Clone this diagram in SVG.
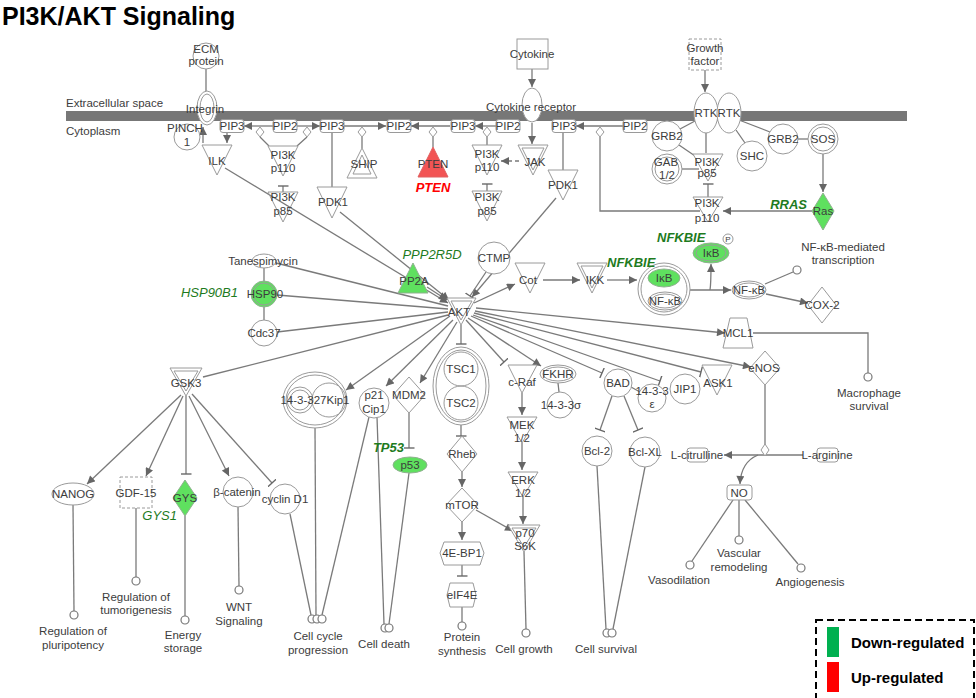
<svg xmlns="http://www.w3.org/2000/svg" width="976" height="698" viewBox="0 0 976 698">
<style>
.n{fill:#fff;stroke:#9a9a9a;stroke-width:1}
.nf{fill:none;stroke:#9a9a9a;stroke-width:1}
.gr{fill:#5fe05f;stroke:#8fb08f;stroke-width:1}
.rd{fill:#f25454;stroke:#e06060;stroke-width:1}
.t{font-family:"Liberation Sans",Arial,sans-serif;font-size:11.5px;fill:#3c3c3c;text-anchor:middle}
.s{text-anchor:start}
.l{stroke:#7a7a7a;stroke-width:1.3;fill:none}
.ar{marker-end:url(#a)}
.in{marker-end:url(#tee)}
.o{fill:#fff;stroke:#777;stroke-width:1.2}
.lab{font-family:"Liberation Sans",Arial,sans-serif;font-size:13px;font-style:italic;fill:#1e7b1e}
.b{font-weight:bold}
</style>
<defs>
<marker id="a" viewBox="0 0 10 10" refX="10" refY="5" markerWidth="9" markerHeight="8" orient="auto" markerUnits="userSpaceOnUse"><path d="M0,0 L10,5 L0,10 z" fill="#666"/></marker>
<marker id="tee" viewBox="0 0 4 12" refX="2" refY="6" markerWidth="4" markerHeight="11" orient="auto" markerUnits="userSpaceOnUse"><path d="M2,0 L2,12" stroke="#666" stroke-width="1.5"/></marker>
</defs>
<rect width="976" height="698" fill="#fff"/>
<text x="2" y="25" font-family="Liberation Sans, Arial, sans-serif" font-size="25" font-weight="bold" fill="#000">PI3K/AKT Signaling</text>
<g id="membrane">
<rect x="66" y="111" width="841" height="10" fill="#777"/>
<text class="t s" x="66" y="107">Extracellular space</text>
<text class="t s" x="66" y="135">Cytoplasm</text>
</g>
<g id="connectors">
<path class="l" d="M206,69 L206,91"/>
<path class="l ar" d="M203,143 L203,127"/>
<path class="l ar" d="M227,123 L227,143"/>
<path class="l ar" d="M273,126 L244,126"/>
<path class="l ar" d="M297,126 L320,126"/>
<path class="l ar" d="M344,126 L386,126"/>
<path class="l ar" d="M450,126 L411,126"/>
<path class="l ar" d="M496,126 L475,126"/>
<path class="l ar" d="M623,126 L576,126"/>
<path class="l" d="M260,137 L269,146 M307,137 L297,146"/>
<path class="l" d="M362,137 L362,148"/>
<path class="l" d="M433,137 L433,147"/>
<path class="l" d="M487,137 L487,145"/>
<path class="l" d="M600,137 L600,211 L700,211"/>
<path class="l in" d="M283,192 L283,186"/>
<path class="l in" d="M487,191 L487,184"/>
<path class="l ar" d="M519,161 L501,161" stroke-dasharray="4 3"/>
<path class="l ar" d="M532,69 L532,87"/>
<path class="l ar" d="M532,123 L532,144"/>
<path class="l" d="M332,133 L332,187"/>
<path class="l" d="M563,133 L563,170"/>
<path class="l ar" d="M705,70 L705,92"/>
<path class="l" d="M706,133 L706,153"/>
<path class="l" d="M680,129 L695,121"/>
<path class="l" d="M679,145 L698,158"/>
<path class="l" d="M682,169 L699,169"/>
<path class="l in" d="M708,197 L708,184"/>
<path class="l" d="M736,130 L745,143"/>
<path class="l" d="M739,120 L770,132"/>
<path class="l" d="M798,139 L808,139"/>
<path class="l ar" d="M823,154 L823,192"/>
<path class="l ar" d="M812,211 L723,211"/>
<path class="l ar" d="M225,168 L448,303"/>
<path class="l ar" d="M340,212 L449,300"/>
<path class="l ar" d="M427,287 L447,300"/>
<path class="l ar" d="M556,198 L472,297"/>
<path class="l in" d="M486,272 L470,296"/>
<path class="l" d="M276,263 L448,306"/>
<path class="l" d="M277,295 L448,309"/>
<path class="l" d="M277,332 L448,312"/>
<path class="l" d="M203,377 L448,315"/>
<path class="l" d="M264,268 L264,281"/>
<path class="l" d="M264,307 L264,320"/>
<path class="l ar" d="M474,303 L515,284"/>
<path class="l ar" d="M543,280 L580,280"/>
<path class="l ar" d="M607,280 L637,280"/>
<path class="l ar" d="M690,290 L731,290"/>
<path class="l ar" d="M710,290 Q711,284 711,264"/>
<path class="l" d="M765,284 L793,272"/>
<path class="l ar" d="M766,294 L808,303"/>
<path class="l ar" d="M476,308 L725,333"/>
<path class="l" d="M753,333 L868,333 L868,373"/>
<path class="l ar" d="M475,311 L751,367"/>
<path class="l in" d="M474,313 L701,372"/>
<path class="l in" d="M473,315 L660,381"/>
<path class="l in" d="M471,316 L602,373"/>
<path class="l ar" d="M468,318 L541,366"/>
<path class="l in" d="M466,320 L504,362"/>
<path class="l in" d="M461,325 L461,344"/>
<path class="l ar" d="M457,322 L420,383"/>
<path class="l ar" d="M453,320 L386,386"/>
<path class="l ar" d="M450,316 L346,390"/>
<path class="l" d="M765,385 L765,445"/>
<path class="l ar" d="M803,455 L724,455"/>
<path class="l ar" d="M758,455 Q741,462 740,484"/>
<path class="l" d="M733,500 L692,561"/>
<path class="l" d="M739,500 L739,536"/>
<path class="l" d="M745,500 L798,564"/>
<path class="l ar" d="M181,395 L87,484"/>
<path class="l ar" d="M183,396 L146,476"/>
<path class="l in" d="M186,396 L186,474"/>
<path class="l ar" d="M189,396 L229,476"/>
<path class="l in" d="M192,394 L272,483"/>
<path class="l" d="M73,505 L74,611"/>
<path class="l" d="M136,508 L136,577"/>
<path class="l" d="M185,516 L185,616"/>
<path class="l" d="M238,507 L239,586"/>
<path class="l" d="M315,427 L316,615"/>
<path class="l" d="M290,514 L311,615"/>
<path class="l" d="M369,417 L322,615"/>
<path class="l" d="M377,417 L384,624"/>
<path class="l in" d="M409,413 L409,448"/>
<path class="l" d="M409,473 L389,624"/>
<path class="l in" d="M461,425 L461,436"/>
<path class="l ar" d="M462,472 L462,487"/>
<path class="l ar" d="M462,522 L462,540"/>
<path class="l in" d="M462,565 L462,576"/>
<path class="l" d="M462,607 L462,622"/>
<path class="l ar" d="M476,510 L513,531"/>
<path class="l ar" d="M522,393 L522,415"/>
<path class="l ar" d="M522,443 L522,470"/>
<path class="l ar" d="M523,497 L523,524"/>
<path class="l" d="M524,552 L526,629"/>
<path class="l" d="M558,383 L559,392"/>
<path class="l in" d="M612,396 L600,430"/>
<path class="l in" d="M624,396 L638,430"/>
<path class="l" d="M631,387 L640,392"/>
<path class="l" d="M597,466 L606,629"/>
<path class="l" d="M645,467 L613,629"/>
</g>
<g id="catalysts">
<polygon class="n" points="260,127 264,132 260,137 256,132"/>
<polygon class="n" points="307,127 311,132 307,137 303,132"/>
<polygon class="n" points="362,127 366,132 362,137 358,132"/>
<polygon class="n" points="433,127 437,132 433,137 429,132"/>
<polygon class="n" points="487,127 491,132 487,137 483,132"/>
<polygon class="n" points="600,127 604,132 600,137 596,132"/>
<polygon class="n" points="765,444 769,450 765,456 761,450"/>
</g>
<g id="ecm"><circle class="n" cx="206" cy="56" r="13"/><text class="t" x="206" y="53">ECM</text><text class="t" x="206" y="65">protein</text></g>
<g id="integrin"><ellipse class="n" cx="207" cy="108" rx="10" ry="17"/><ellipse class="nf" cx="207" cy="108" rx="7" ry="14"/><text class="t" x="205" y="113">Integrin</text></g>
<g id="pinch"><circle class="n" cx="187" cy="137" r="13"/><text class="t" x="185" y="132">PINCH</text><text class="t" x="187" y="146">1</text></g>
<g id="ilk"><polygon class="n" points="202,145 232,145 217,175"/><text class="t" x="217" y="165">ILK</text></g>
<g id="pip3a"><rect class="n" x="220" y="119.5" width="24" height="13" rx="3"/><text class="t" x="232" y="130">PIP3</text></g>
<g id="pip2a"><rect class="n" x="273" y="119.5" width="24" height="13" rx="3"/><text class="t" x="285" y="130">PIP2</text></g>
<g id="pip3b"><rect class="n" x="320" y="119.5" width="24" height="13" rx="3"/><text class="t" x="332" y="130">PIP3</text></g>
<g id="pip2b"><rect class="n" x="387" y="119.5" width="24" height="13" rx="3"/><text class="t" x="399" y="130">PIP2</text></g>
<g id="pip3c"><rect class="n" x="451" y="119.5" width="24" height="13" rx="3"/><text class="t" x="463" y="130">PIP3</text></g>
<g id="pip2c"><rect class="n" x="496" y="119.5" width="24" height="13" rx="3"/><text class="t" x="508" y="130">PIP2</text></g>
<g id="pip3d"><rect class="n" x="552" y="119.5" width="24" height="13" rx="3"/><text class="t" x="564" y="130">PIP3</text></g>
<g id="pip2d"><rect class="n" x="623" y="119.5" width="24" height="13" rx="3"/><text class="t" x="635" y="130">PIP2</text></g>
<g id="pi3k-p110-a"><polygon class="n" points="268,146 298,146 283,176"/><text class="t" x="283" y="159">PI3K</text><text class="t" x="283" y="172">p110</text></g>
<g id="pi3k-p85-a"><polygon class="nf" points="268,192 298,192 283,222"/><text class="t" x="283" y="201">PI3K</text><text class="t" x="283" y="215">p85</text></g>
<g id="pdk1-a"><polygon class="n" points="317,187 347,187 332,218"/><text class="t" x="333" y="206">PDK1</text></g>
<g id="ship"><polygon class="n" points="362,148 377,178 347,178"/><polygon class="nf" points="362,155 371,174 353,174"/><text class="t" x="364" y="168">SHIP</text></g>
<g id="pten"><polygon class="rd" points="433,147 448,177 418,177"/><text class="t" x="433" y="168">PTEN</text><text class="lab b" x="433" y="192" text-anchor="middle" fill="#ff0000" style="fill:#ff0000">PTEN</text></g>
<g id="pi3k-p110-b"><polygon class="n" points="472,145 502,145 487,175"/><text class="t" x="487" y="158">PI3K</text><text class="t" x="487" y="171">p110</text></g>
<g id="pi3k-p85-b"><polygon class="n" points="472,191 502,191 487,221"/><text class="t" x="487" y="201">PI3K</text><text class="t" x="487" y="215">p85</text></g>
<g id="jak"><polygon class="n" points="518,145 548,145 533,175"/><polygon class="nf" points="522,148 544,148 533,170"/><text class="t" x="535" y="166">JAK</text></g>
<g id="cytokine"><rect class="n" x="517" y="39" width="31" height="30"/><text class="t" x="532" y="58">Cytokine</text></g>
<g id="cytokine-receptor"><ellipse class="n" cx="532" cy="105" rx="10" ry="17"/><text class="t" x="531" y="111">Cytokine receptor</text></g>
<g id="pdk1-b"><polygon class="n" points="548,170 578,170 563,200"/><text class="t" x="563" y="189">PDK1</text></g>
<g id="growth-factor"><rect class="n" x="689" y="39" width="32" height="31" stroke-dasharray="3 2"/><text class="t" x="705" y="52">Growth</text><text class="t" x="705" y="65">factor</text></g>
<g id="rtk1"><ellipse class="n" cx="706" cy="113" rx="12" ry="20"/><text class="t" x="706" y="117">RTK</text></g>
<g id="rtk2"><ellipse class="n" cx="729" cy="113" rx="12" ry="20"/><text class="t" x="729" y="117">RTK</text></g>
<g id="grb2-a"><circle class="n" cx="667" cy="136" r="15"/><text class="t" x="667" y="140">GRB2</text></g>
<g id="gab"><circle class="n" cx="667" cy="169" r="15"/><circle class="nf" cx="667" cy="169" r="12"/><text class="t" x="666" y="166">GAB</text><text class="t" x="667" y="179">1/2</text></g>
<g id="pi3k-p85-c"><polygon class="n" points="693,154 723,154 708,181"/><text class="t" x="707" y="166">PI3K</text><text class="t" x="707" y="177">p85</text></g>
<g id="pi3k-p110-c"><polygon class="n" points="693,197 723,197 708,222"/><text class="t" x="707" y="207">PI3K</text><text class="t" x="707" y="222">p110</text></g>
<g id="shc"><circle class="n" cx="752" cy="156" r="15"/><text class="t" x="752" y="160">SHC</text></g>
<g id="grb2-b"><circle class="n" cx="783" cy="139" r="15"/><text class="t" x="783" y="143">GRB2</text></g>
<g id="sos"><circle class="n" cx="823" cy="139" r="15"/><circle class="nf" cx="823" cy="139" r="12"/><text class="t" x="823" y="143">SOS</text></g>
<g id="ras"><polygon class="gr" points="823,193 834,211 823,230 812,211"/><text class="t" x="823" y="215">Ras</text><text class="lab b" x="807" y="209" text-anchor="end">RRAS</text></g>
<text class="t" x="843" y="251">NF-κB-mediated</text>
<text class="t" x="843" y="264">transcription</text>
<g id="tanespimycin"><ellipse class="n" cx="264" cy="261" rx="12" ry="7"/><text class="t" x="263" y="265">Tanespimycin</text></g>
<g id="hsp90"><circle class="gr" cx="264" cy="294" r="13"/><circle class="nf" cx="264" cy="294" r="11" stroke="#7cc07c"/><text class="t" x="265" y="298">HSP90</text><text class="lab" x="238" y="297" text-anchor="end">HSP90B1</text></g>
<g id="cdc37"><circle class="n" cx="264" cy="333" r="13"/><text class="t" x="264" y="337">Cdc37</text></g>
<g id="pp2a"><polygon class="gr" points="413,263 428,293 398,293"/><text class="t" x="414" y="285">PP2A</text><text class="lab" x="432" y="259" text-anchor="middle">PPP2R5D</text></g>
<g id="ctmp"><circle class="n" cx="494" cy="258" r="16"/><text class="t" x="494" y="262">CTMP</text></g>
<g id="akt"><polygon class="n" points="447,298 476,298 461,325"/><polygon class="nf" points="451,301 472,301 461,320"/><text class="t" x="459" y="316">AKT</text></g>
<g id="cot"><polygon class="n" points="515,263 545,263 530,293"/><text class="t" x="528" y="284">Cot</text></g>
<g id="ikk"><polygon class="n" points="577,263 607,263 592,293"/><polygon class="nf" points="581,266 603,266 592,288"/><text class="t" x="595" y="284">IKK</text></g>
<g id="ikb-nfkb"><circle class="n" cx="664" cy="289" r="26"/><circle class="nf" cx="664" cy="289" r="23"/><ellipse class="gr" cx="664" cy="278" rx="16" ry="9"/><text class="t" x="664" y="282">IκB</text><ellipse class="n" cx="665" cy="301" rx="17" ry="9"/><ellipse class="nf" cx="665" cy="301" rx="14" ry="7"/><text class="t" x="665" y="305">NF-κB</text><text class="lab b" x="607" y="267">NFKBIE</text></g>
<g id="ikb-p"><ellipse class="gr" cx="711" cy="253" rx="18" ry="10"/><ellipse class="nf" cx="711" cy="253" rx="15" ry="8" stroke="#6cb06c"/><text class="t" x="711" y="257">IκB</text><circle class="n" cx="728" cy="239" r="5"/><text class="t" x="728" y="242" style="font-size:8px">P</text><text class="lab b" x="657" y="242">NFKBIE</text></g>
<g id="nfkb"><ellipse class="n" cx="749" cy="290" rx="17" ry="9"/><ellipse class="nf" cx="749" cy="290" rx="14" ry="7"/><text class="t" x="749" y="294">NF-κB</text></g>
<g id="cox2"><polygon class="n" points="822,287 836,305 822,323 808,305"/><text class="t" x="822" y="309">COX-2</text></g>
<g id="mcl1"><polygon class="n" points="730,318 747,318 753,348 723,348"/><text class="t" x="738" y="337">MCL1</text></g>
<g id="enos"><polygon class="n" points="765,351 780,368 765,385 750,368"/><text class="t" x="764" y="372">eNOS</text></g>
<g id="l-citrulline"><rect class="n" x="687" y="448" width="21" height="14" rx="3"/><text class="t" x="697" y="459">L-citrulline</text></g>
<g id="l-arginine"><rect class="n" x="817" y="448" width="21" height="14" rx="3"/><text class="t" x="827" y="459">L-arginine</text></g>
<g id="no"><rect class="n" x="727" y="485" width="25" height="15" rx="3"/><text class="t" x="739" y="497">NO</text></g>
<g id="gsk3"><polygon class="n" points="170,368 202,368 186,396"/><polygon class="nf" points="174,371 198,371 186,391"/><text class="t" x="186" y="387">GSK3</text></g>
<g id="nanog"><ellipse class="n" cx="73" cy="494" rx="21" ry="11"/><text class="t" x="73" y="498">NANOG</text></g>
<g id="gdf15"><rect class="n" x="120" y="477" width="32" height="31" stroke-dasharray="3 2"/><text class="t" x="136" y="497">GDF-15</text></g>
<g id="gys"><polygon class="gr" points="185,480 197,498 185,516 173,498"/><text class="t" x="185" y="502">GYS</text><text class="lab" x="177" y="520" text-anchor="end">GYS1</text></g>
<g id="beta-catenin"><circle class="n" cx="238" cy="492" r="15"/><text class="t" x="237" y="496">β-catenin</text></g>
<g id="cyclin-d1"><circle class="n" cx="285" cy="499" r="15"/><text class="t" x="285" y="503">cyclin D1</text></g>
<g id="complex-14-3-3-p27"><ellipse class="n" cx="315" cy="400" rx="32" ry="28"/><ellipse class="nf" cx="315" cy="400" rx="29" ry="25"/><circle class="nf" cx="300" cy="400" r="13"/><circle class="nf" cx="300" cy="400" r="10"/><circle class="nf" cx="329" cy="400" r="17"/><text class="t" x="315" y="404">14-3-327Kip1</text></g>
<g id="p21"><circle class="n" cx="374" cy="403" r="15"/><text class="t" x="374" y="399">p21</text><text class="t" x="374" y="413">Cip1</text></g>
<g id="mdm2"><polygon class="n" points="409,377 425,395 409,413 393,395"/><text class="t" x="409" y="399">MDM2</text></g>
<g id="p53"><ellipse class="gr" cx="410" cy="465" rx="17" ry="8"/><text class="t" x="410" y="469">p53</text><text class="lab b" x="404" y="452" text-anchor="end">TP53</text></g>
<g id="tsc"><ellipse class="n" cx="461" cy="386" rx="28" ry="39"/><ellipse class="nf" cx="461" cy="386" rx="25" ry="36"/><circle class="nf" cx="461" cy="369" r="17"/><circle class="nf" cx="461" cy="403" r="17"/><text class="t" x="461" y="373">TSC1</text><text class="t" x="461" y="407">TSC2</text></g>
<g id="rheb"><polygon class="n" points="462,436 477,454 462,472 447,454"/><text class="t" x="462" y="458">Rheb</text></g>
<g id="mtor"><polygon class="n" points="462,488 478,505 462,522 446,505"/><text class="t" x="462" y="509">mTOR</text></g>
<g id="4e-bp1"><polygon class="n" points="444,542 480,542 484,553 480,565 444,565 440,553"/><text class="t" x="462" y="557">4E-BP1</text></g>
<g id="eif4e"><polygon class="n" points="450,583 473,583 476,595 473,607 450,607 447,595"/><text class="t" x="462" y="599">eIF4E</text></g>
<g id="c-raf"><polygon class="n" points="508,365 537,365 522,393"/><text class="t" x="522" y="386">c-Raf</text></g>
<g id="fkhr"><ellipse class="n" cx="558" cy="374" rx="18" ry="9"/><ellipse class="nf" cx="558" cy="374" rx="15" ry="7"/><text class="t" x="558" y="378">FKHR</text></g>
<g id="sigma14-3-3"><circle class="n" cx="560" cy="405" r="13"/><text class="t" x="561" y="409">14-3-3σ</text></g>
<g id="mek"><polygon class="n" points="507,417 537,417 522,443"/><text class="t" x="522" y="429">MEK</text><text class="t" x="522" y="442">1/2</text></g>
<g id="erk"><polygon class="n" points="508,472 538,472 523,497"/><text class="t" x="523" y="484">ERK</text><text class="t" x="523" y="497">1/2</text></g>
<g id="p70s6k"><polygon class="n" points="508,525 540,525 524,552"/><polygon class="nf" points="512,528 536,528 524,547"/><text class="t" x="525" y="537">p70</text><text class="t" x="525" y="550">S6K</text></g>
<g id="bad"><circle class="n" cx="618" cy="383" r="14"/><text class="t" x="618" y="387">BAD</text></g>
<g id="bcl2"><circle class="n" cx="597" cy="451" r="15"/><text class="t" x="597" y="455">Bcl-2</text></g>
<g id="bclxl"><circle class="n" cx="645" cy="452" r="15"/><text class="t" x="645" y="456">Bcl-XL</text></g>
<g id="epsilon14-3-3"><circle class="n" cx="652" cy="398" r="14"/><text class="t" x="652" y="395">14-3-3</text><text class="t" x="652" y="408">ε</text></g>
<g id="jip1"><circle class="n" cx="685" cy="389" r="15"/><text class="t" x="685" y="393">JIP1</text></g>
<g id="ask1"><polygon class="n" points="702,365 732,365 717,395"/><text class="t" x="718" y="387">ASK1</text></g>
<g id="outcomes">
<circle class="o" cx="797" cy="270" r="4"/>
<circle class="o" cx="868" cy="377" r="4"/>
<text class="t" x="869" y="397">Macrophage</text><text class="t" x="869" y="410">survival</text>
<circle class="o" cx="690" cy="565" r="4"/>
<text class="t" x="679" y="584">Vasodilation</text>
<circle class="o" cx="739" cy="540" r="4"/>
<text class="t" x="739" y="557">Vascular</text><text class="t" x="739" y="571">remodeling</text>
<circle class="o" cx="801" cy="568" r="4"/>
<text class="t" x="810" y="586">Angiogenesis</text>
<circle class="o" cx="74" cy="615" r="4"/>
<text class="t" x="73" y="635">Regulation of</text><text class="t" x="73" y="649">pluripotency</text>
<circle class="o" cx="136" cy="581" r="4"/>
<text class="t" x="136" y="601">Regulation of</text><text class="t" x="136" y="614">tumorigenesis</text>
<circle class="o" cx="185" cy="620" r="4"/>
<text class="t" x="183" y="639">Energy</text><text class="t" x="183" y="652">storage</text>
<circle class="o" cx="239" cy="590" r="4"/>
<text class="t" x="239" y="611">WNT</text><text class="t" x="239" y="625">Signaling</text>
<circle class="o" cx="312" cy="619" r="4"/><circle class="o" cx="317" cy="619" r="4"/><circle class="o" cx="322" cy="619" r="4"/>
<text class="t" x="318" y="640">Cell cycle</text><text class="t" x="318" y="654">progression</text>
<circle class="o" cx="385" cy="628" r="4"/><circle class="o" cx="389" cy="628" r="4"/>
<text class="t" x="384" y="648">Cell death</text>
<circle class="o" cx="462" cy="626" r="4"/>
<text class="t" x="462" y="641">Protein</text><text class="t" x="462" y="655">synthesis</text>
<circle class="o" cx="526" cy="633" r="4"/>
<text class="t" x="524" y="653">Cell growth</text>
<circle class="o" cx="607" cy="633" r="4"/><circle class="o" cx="612" cy="633" r="4"/>
<text class="t" x="606" y="653">Cell survival</text>
</g>
<g id="legend">
<rect x="816" y="620" width="158" height="80" fill="none" stroke="#000" stroke-width="2" stroke-dasharray="7 4"/>
<rect x="827" y="627" width="12" height="30" fill="#00b050"/>
<rect x="827" y="662" width="12" height="30" fill="#ff0000"/>
<text x="851" y="648" font-family="Liberation Sans, Arial, sans-serif" font-size="15" font-weight="bold" fill="#000">Down-regulated</text>
<text x="851" y="683" font-family="Liberation Sans, Arial, sans-serif" font-size="15" font-weight="bold" fill="#000">Up-regulated</text>
</g>
</svg>
